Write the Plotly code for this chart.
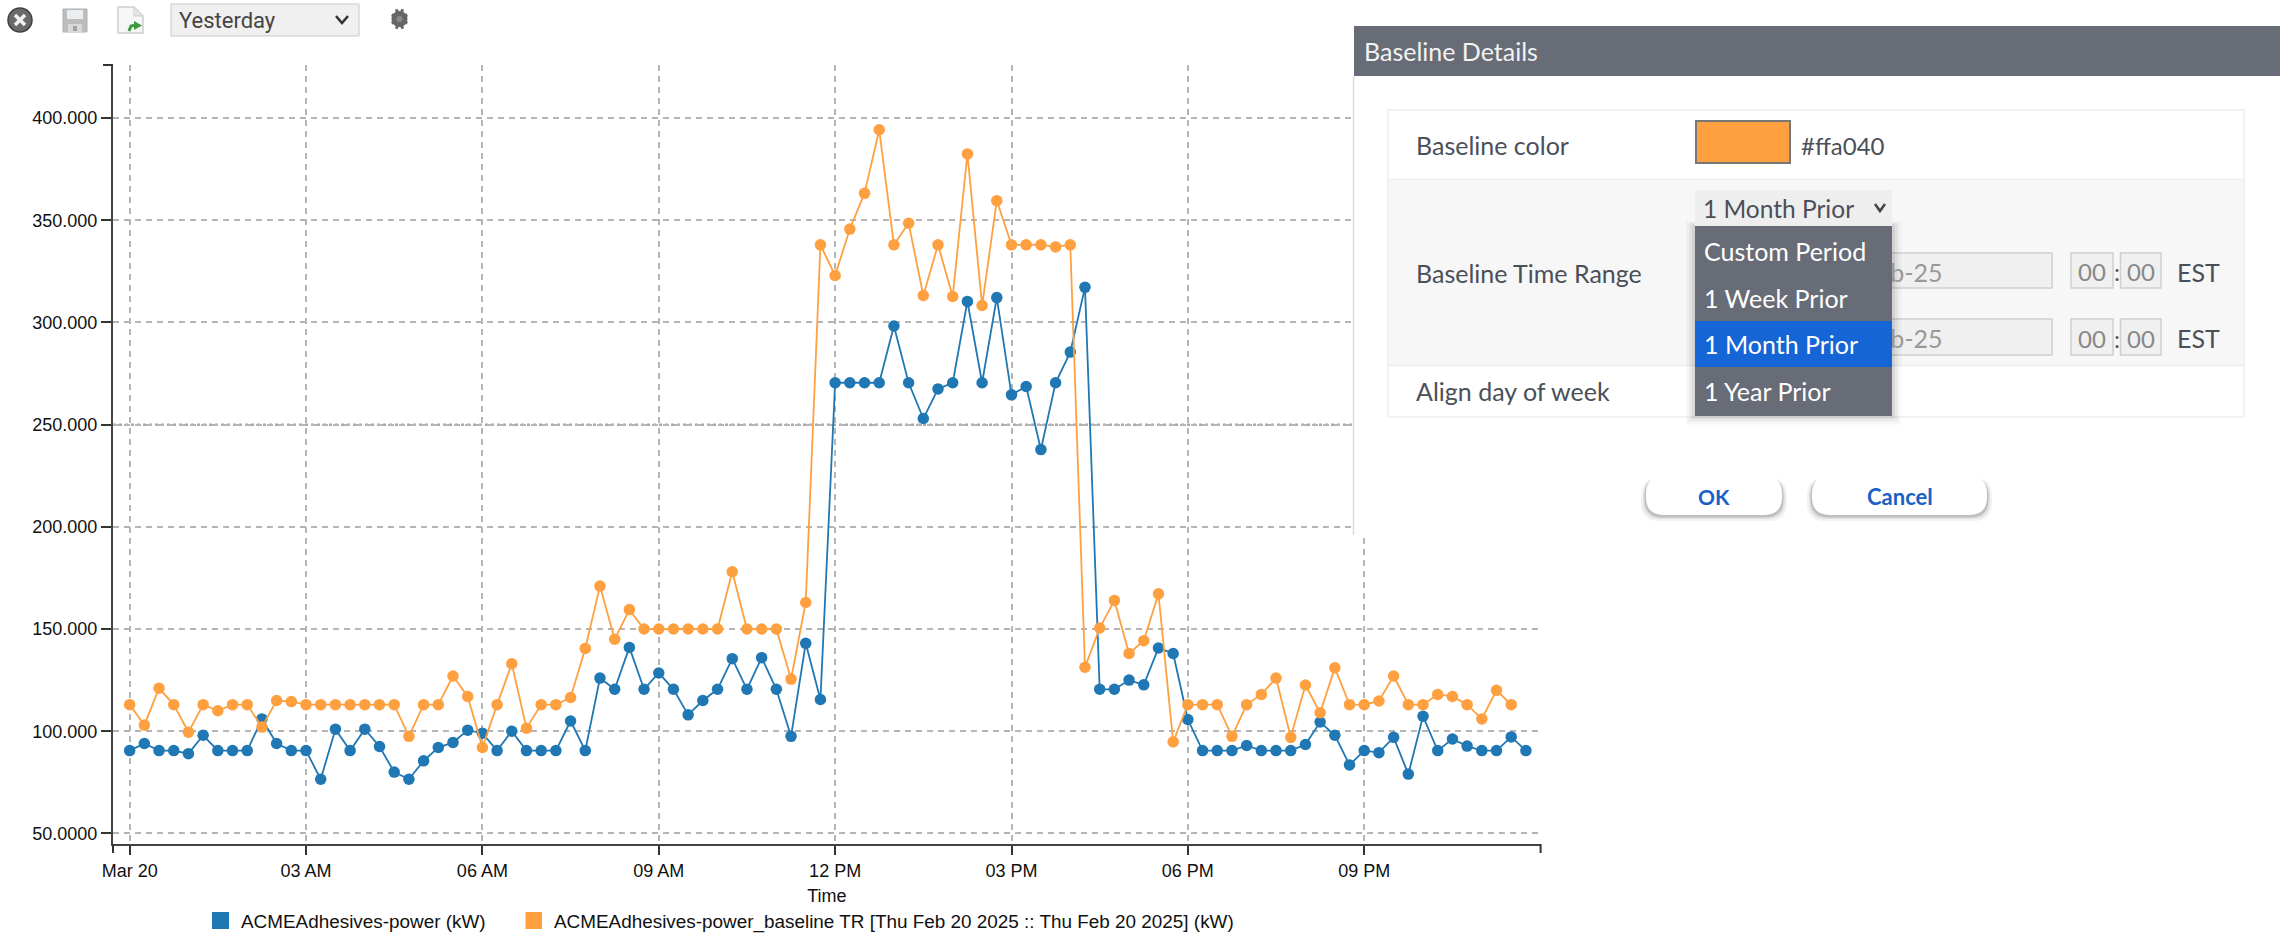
import math
import pandas as pd
import plotly.graph_objects as go

W, H = 2280, 934

# ---------- data (kW, 15 minute samples for Mar 20) ----------
power_kw = [
    90.5, 94, 90.5, 90.5, 89, 98, 90.5, 90.5, 90.5, 106, 94, 90.5,
    90.5, 76.5, 101, 90.5, 101, 92.5, 80, 76.5, 85.5, 92, 94.5, 100.5,
    99, 90.5, 100, 90.5, 90.5, 90.5, 105, 90.5, 126, 120.5, 141, 120.5,
    128.5, 120.5, 108, 115, 120.5, 135.5, 120.5, 136, 120.5, 97.5, 143, 115.5,
    270.5, 270.5, 270.5, 270.5, 298.3, 270.5, 253, 267.5, 270.5, 310.3, 270.5, 312.2,
    264.6, 268.7, 237.8, 270.5, 285.5, 317.2, 120.5, 120.5, 125, 122.7, 140.7, 138,
    105.7, 90.5, 90.5, 90.5, 93, 90.5, 90.5, 90.5, 93.5, 104.5, 98, 83.5,
    90.5, 89.5, 97, 79, 107.3, 90.5, 96.2, 92.7, 90.5, 90.5, 97.2, 90.5,
]
baseline_kw = [
    113, 103, 121, 113, 99.5, 113, 110, 113, 113, 102, 115, 114.5,
    113, 113, 113, 113, 113, 113, 113, 97.5, 113, 113, 127, 117,
    92, 113, 133, 101.5, 113, 113, 116.5, 140.5, 171, 145, 159.5, 150,
    150, 150, 150, 150, 150, 178, 150, 150, 150, 125.5, 163, 338,
    323, 345.7, 363.2, 394.3, 338, 348.6, 313.2, 338, 312.7, 382.5, 308.3, 359.6,
    338, 338, 338, 337, 338, 131.3, 150.5, 164, 138, 144.3, 167.2, 94.8,
    113, 113, 113, 97.5, 113, 118, 126, 97, 122.6, 109, 131, 113,
    113, 114.8, 127, 113, 113, 118, 117, 113, 106, 120, 113,
]
y_ticks = [50, 100, 150, 200, 250, 300, 350, 400]
y_labels = ["50.0000", "100.000", "150.000", "200.000", "250.000", "300.000", "350.000", "400.000"]
x_ticks = ["2025-03-20 00:00", "2025-03-20 03:00", "2025-03-20 06:00", "2025-03-20 09:00",
           "2025-03-20 12:00", "2025-03-20 15:00", "2025-03-20 18:00", "2025-03-20 21:00"]
x_labels = ["Mar 20", "03 AM", "06 AM", "09 AM", "12 PM", "03 PM", "06 PM", "09 PM"]
series_name = "ACMEAdhesives-power (kW)"
baseline_name = "ACMEAdhesives-power_baseline TR [Thu Feb 20 2025 :: Thu Feb 20 2025] (kW)"
menu_options = ["Custom Period", "1 Week Prior", "1 Month Prior", "1 Year Prior"]

times_a = pd.date_range("2025-03-20", periods=len(power_kw), freq="15min")
times_b = pd.date_range("2025-03-20", periods=len(baseline_kw), freq="15min")

BLUE = "#1f77b4"
ORANGE = "#ffa040"
PANEL = "#676c76"
UI_FONT = "Lato"
CHART_FONT = "Liberation Sans"
LABEL = "#4a4f58"

# ---------- pixel helpers for the surrounding page furniture ----------
def px(x):
    return x / W

def py(y):
    return 1 - y / H

shapes, annotations = [], []

def rect(x0, y0, x1, y1, fill, line=None, lw=1):
    shapes.append(dict(type="rect", xref="paper", yref="paper", layer="above",
                       x0=px(x0), x1=px(x1), y0=py(y1), y1=py(y0), fillcolor=fill,
                       line=dict(color=line or "rgba(0,0,0,0)", width=lw if line else 0)))

def circle(cx, cy, r, fill, line=None, lw=1):
    shapes.append(dict(type="circle", xref="paper", yref="paper", layer="above",
                       x0=px(cx - r), x1=px(cx + r), y0=py(cy + r), y1=py(cy - r), fillcolor=fill,
                       line=dict(color=line or "rgba(0,0,0,0)", width=lw if line else 0)))

def poly(points, color, lw=1, fill=None, close=False, layer="above"):
    d = "M " + " L ".join(f"{px(a):.6f} {py(b):.6f}" for a, b in points) + (" Z" if close else "")
    shapes.append(dict(type="path", xref="paper", yref="paper", layer=layer, path=d,
                       fillcolor=fill or "rgba(0,0,0,0)",
                       line=dict(color=color or "rgba(0,0,0,0)", width=lw)))

def rounded(x0, y0, x1, y1, r, fill):
    k = r
    d = (f"M {px(x0+k)} {py(y0)} L {px(x1-k)} {py(y0)} Q {px(x1)} {py(y0)} {px(x1)} {py(y0+k)} "
         f"L {px(x1)} {py(y1-k)} Q {px(x1)} {py(y1)} {px(x1-k)} {py(y1)} "
         f"L {px(x0+k)} {py(y1)} Q {px(x0)} {py(y1)} {px(x0)} {py(y1-k)} "
         f"L {px(x0)} {py(y0+k)} Q {px(x0)} {py(y0)} {px(x0+k)} {py(y0)} Z")
    shapes.append(dict(type="path", xref="paper", yref="paper", layer="above", path=d,
                       fillcolor=fill, line=dict(color="rgba(0,0,0,0)", width=0)))

def text(x, y, s, size=25, color=LABEL, anchor="left", font=UI_FONT, bold=False):
    annotations.append(dict(xref="paper", yref="paper", x=px(x), y=py(y), text=f"<b>{s}</b>" if bold else s,
                            showarrow=False, xanchor=anchor, yanchor="middle", borderpad=0,
                            font=dict(family=font, size=size, color=color)))

# ---------- chart traces ----------
fig = go.Figure()
fig.add_trace(go.Scatter(x=times_a, y=power_kw, name=series_name, mode="lines+markers",
                         line=dict(color=BLUE, width=1.8), marker=dict(color=BLUE, size=11.5)))
fig.add_trace(go.Scatter(x=times_b, y=baseline_kw, name=baseline_name, mode="lines+markers",
                         line=dict(color=ORANGE, width=1.8), marker=dict(color=ORANGE, size=11.5)))

# axis end ticks and the heavier 250 rule
poly([(103, 65), (113, 65)], "#333333", 2)
poly([(113, 844), (113, 853)], "#333333", 2)
poly([(1540.6, 844), (1540.6, 853)], "#333333", 2)
shapes.append(dict(type="line", xref="paper", yref="y", x0=px(113), x1=px(1540), y0=250, y1=250,
                   layer="below", line=dict(color="#aaaaaa", width=2.5, dash="3px,3px")))

# ---------- toolbar ----------
circle(20, 20, 12, "#6a6a6a", "#3f3f3f", 1.5)
poly([(15, 15), (25, 25)], "#f2f2f2", 3.5)
poly([(25, 15), (15, 25)], "#f2f2f2", 3.5)
rect(63, 9, 87, 32, "#bdbdbd", "#b0b0b0")
rect(67, 10, 83, 19, "#eceff2")
rect(68, 24, 82, 32, "#d9d9d9")
rect(73, 26, 77, 31, "#a0a0a0")
poly([(118, 7), (134, 7), (143, 16), (143, 33), (118, 33)], "#cfcfcf", 1.5, "#f6f6f6", True)
poly([(134, 7), (134, 16), (143, 16)], "#cfcfcf", 1, "#e6e6e6", True)
poly([(129, 31), (131, 26), (136, 25)], "#3c9a3c", 3)
poly([(134, 21), (142, 25.5), (134, 30)], None, 0, "#3c9a3c", True)
rect(171, 4, 359, 36, "#f0f0f0", "#c9c9c9", 1)
text(178, 21, "Yesterday", 22, "#444444", font="Roboto")
poly([(336, 16), (342, 23), (348, 16)], "#333333", 2.5)
for i in range(8):
    a = i * math.pi / 4 + math.pi / 8
    poly([(399.5 + 5 * math.cos(a), 19 + 7 * math.sin(a)),
          (399.5 + 8.5 * math.cos(a), 19 + 10.5 * math.sin(a))], "#666666", 3)
circle(399.5, 19, 8, "#666666")
circle(399.5, 19, 3, "#8a8a8a")

# ---------- legend row ----------
rect(212, 912, 229, 929, BLUE)
text(240, 921.5, series_name, 18.9, "#111111", font=CHART_FONT)
rect(525.5, 912, 542, 929, ORANGE)
text(553, 921.5, baseline_name, 18.9, "#111111", font=CHART_FONT)

# ---------- baseline details panel ----------
rect(1353, 0, W, 535, "#ffffff")
poly([(1353.5, 76), (1353.5, 535)], "#dddddd", 1.5)
rect(1354, 26, W, 76, PANEL)
text(1363, 51, "Baseline Details", 25, "#f2f2f2")

rect(1388, 110, 2244, 417, "#ffffff", "#eeeeee", 1.5)
rect(1389, 180, 2243, 365, "#f7f7f7")
poly([(1388, 179.5), (2244, 179.5)], "#eeeeee", 1.5)
poly([(1388, 365.5), (2244, 365.5)], "#eeeeee", 1.5)
text(1415, 145, "Baseline color")
text(1415, 273, "Baseline Time Range")
text(1415, 391, "Align day of week")

rect(1696, 121, 1790, 163, ORANGE, "#777777", 2)
text(1800, 145, "#ffa040", 24)

rect(1705, 253, 2052, 288, "#f0f0f0", "#cfcfcf", 1.5)
rect(1705, 319, 2052, 355, "#f0f0f0", "#cfcfcf", 1.5)
for top, bottom in [(253, 288), (319, 355)]:
    mid = (top + bottom) / 2 + 1
    text(1944, mid, "Feb-25", 25, "#999999", anchor="right")
    rect(2071, top, 2113, bottom, "#f0f0f0", "#cfcfcf", 1.5)
    rect(2120.5, top, 2161, bottom, "#f0f0f0", "#cfcfcf", 1.5)
    text(2092, mid, "00", 24, "#888888", anchor="center")
    text(2116.5, mid, ":", 24, "#555555", anchor="center")
    text(2141, mid, "00", 24, "#888888", anchor="center")
    text(2176, mid, "EST", 25, LABEL)

# dropdown: shadow, select head, option rows
for grow, alpha in [(9, 0.03), (6, 0.05), (3, 0.07)]:
    rect(1695 - grow, 226 - grow / 2, 1892 + grow, 415.5 + grow, f"rgba(0,0,0,{alpha})")
rect(1695, 190, 1892, 226, "#eeeeee")
text(1702, 208, "1 Month Prior", 24.5, LABEL)
poly([(1875, 204), (1880, 211), (1885, 204)], "#444444", 2.5)
row_edges = [226, 275, 321, 367, 415.5]
for i, label in enumerate(menu_options):
    top, bottom = row_edges[i], row_edges[i + 1]
    annotations.append(dict(xref="paper", yref="paper", x=px(1695), y=py(top), xanchor="left", yanchor="top",
                            text=label, showarrow=False, align="left", valign="middle",
                            width=197 - 18, height=bottom - top - 18, borderpad=9, borderwidth=0,
                            bgcolor="#1565d6" if label == "1 Month Prior" else PANEL,
                            font=dict(family=UI_FONT, size=25, color="#ffffff")))

# buttons
for grow, alpha in [(5, 0.05), (3, 0.08), (1.5, 0.14)]:
    rounded(1646 - grow, 476 + 2, 1782 + grow, 515 + grow + 1, 18, f"rgba(0,0,0,{alpha})")
    rounded(1812 - grow, 476 + 2, 1987 + grow, 515 + grow + 1, 18, f"rgba(0,0,0,{alpha})")
rounded(1646, 476, 1782, 515, 18, "#ffffff")
rounded(1812, 476, 1987, 515, 18, "#ffffff")
text(1714, 496, "OK", 21, "#1a5fc8", anchor="center", bold=True)
text(1899.5, 496, "Cancel", 22, "#1a5fc8", anchor="center", bold=True)

# ---------- layout ----------
GRID = dict(showgrid=True, gridcolor="#b5b5b5", gridwidth=1.8, griddash="6px,5px")
fig.update_layout(
    width=W, height=H, margin=dict(l=0, r=0, t=0, b=0, autoexpand=False),
    paper_bgcolor="#ffffff", plot_bgcolor="#ffffff", showlegend=False,
    font=dict(family=CHART_FONT, size=18, color="#111111"),
    xaxis=dict(domain=[px(113), px(1540.6)], type="date",
               range=["2025-03-19 23:43", "2025-03-21 00:00"],
               tickmode="array", tickvals=x_ticks, ticktext=x_labels,
               ticks="outside", ticklen=9, tickwidth=2, tickcolor="#333333",
               showline=True, linecolor="#444444", linewidth=2, zeroline=False,
               title=dict(text="Time", standoff=10, font=dict(size=18)), automargin=False, **GRID),
    yaxis=dict(domain=[py(844), py(65)], range=[44.8, 426],
               tickmode="array", tickvals=y_ticks, ticktext=y_labels,
               ticks="outside", ticklen=10, tickwidth=2, tickcolor="#333333",
               showline=True, linecolor="#444444", linewidth=2, zeroline=False,
               automargin=False, **GRID),
    shapes=shapes, annotations=annotations,
)

fig.write_html("out.html", config={"displayModeBar": False},
               post_script="document.body.style.margin='0';document.body.style.overflow='hidden';")
